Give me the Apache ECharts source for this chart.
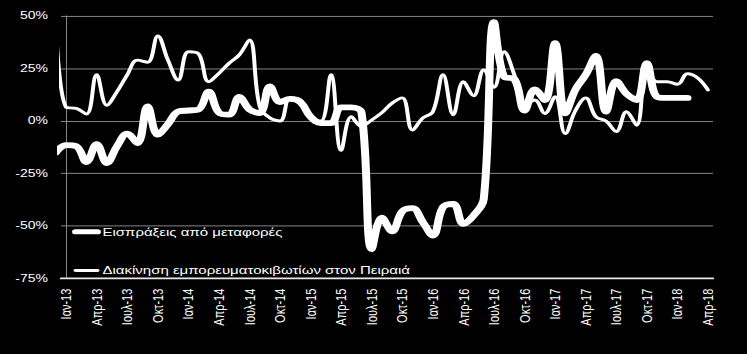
<!DOCTYPE html>
<html>
<head>
<meta charset="utf-8">
<script src="https://cdn.jsdelivr.net/npm/echarts@6/dist/echarts.min.js"></script>
<style>
  html, body { margin: 0; padding: 0; background: #000; width: 747px; height: 354px; overflow: hidden; }
  #chart { width: 747px; height: 485px; transform: scaleY(0.7299); transform-origin: 0 0; }
</style>
</head>
<body>
<div id="chart"></div>
<script>
// Month labels; the first entry (Δεκ-12) lies just before the visible axis and is clipped.
const months = ['Δεκ-12',
  'Ιαν-13','Φεβ-13','Μαρ-13','Απρ-13','Μαϊ-13','Ιουν-13','Ιουλ-13','Αυγ-13','Σεπ-13','Οκτ-13','Νοε-13','Δεκ-13',
  'Ιαν-14','Φεβ-14','Μαρ-14','Απρ-14','Μαϊ-14','Ιουν-14','Ιουλ-14','Αυγ-14','Σεπ-14','Οκτ-14','Νοε-14','Δεκ-14',
  'Ιαν-15','Φεβ-15','Μαρ-15','Απρ-15','Μαϊ-15','Ιουν-15','Ιουλ-15','Αυγ-15','Σεπ-15','Οκτ-15','Νοε-15','Δεκ-15',
  'Ιαν-16','Φεβ-16','Μαρ-16','Απρ-16','Μαϊ-16','Ιουν-16','Ιουλ-16','Αυγ-16','Σεπ-16','Οκτ-16','Νοε-16','Δεκ-16',
  'Ιαν-17','Φεβ-17','Μαρ-17','Απρ-17','Μαϊ-17','Ιουν-17','Ιουλ-17','Αυγ-17','Σεπ-17','Οκτ-17','Νοε-17','Δεκ-17',
  'Ιαν-18','Φεβ-18','Μαρ-18','Απρ-18'];

// Εισπράξεις από μεταφορές (% y/y), aligned with months
const receipts = [-15,
  -11.5, -12, -19.5, -11, -20, -12, -6, -10.5, 7, -6.5, -1.5, 4.5,
  5, 5.5, 14, 4, 3, 11.5, 5.5, 3.8, 16.5, 9, 10.5, 9,
  2, -1, -1, 6.5, 6.5, 4, -61, -46, -52.5, -43, -41.5, -48,
  -54.5, -41, -39.5, -49, -45, -37, 47, 21, 20, 5, 15, 10,
  37, 3.7, 15, 22, 31, 4.5, 19, 13, 10, 27.5, 11.5, 11,
  11, 11, null, null];

// Διακίνηση εμπορευματοκιβωτίων στον Πειραιά (% y/y), aligned with months
const containers = [46,
  6.5, 6, 3.3, 22, 7.5, 14, 22, 29, 28, 40.5, 29, 19.5,
  33, 32, 18.7, 22.7, 27.5, 31.5, 38.6, 7, 1.5, 0, 11, 10,
  1, 0, 22, -14, 2, -2.5, 0.5, 4, 8.5, 11, -4.3, 1.4,
  4.4, 22, 3, 18.7, 12, 24.3, 16, 33, 22, 7, 10, 3.6,
  11.6, -6, 5, 11, 2, 0, -5, 4.4, -2, 26, 18.7, 18.7,
  17.5, 22.5, 20.5, 14.8];

const yTicks = { min: -75, max: 50, step: 25 };
const seriesNames = ['Εισπράξεις από μεταφορές', 'Διακίνηση εμπορευματοκιβωτίων στον Πειραιά'];

const categories = months.slice(1);
const toPairs = arr => arr.map((v, k) => [k - 1, v]);

const font = 'Liberation Sans, Arial, sans-serif';
const chart = echarts.init(document.getElementById('chart'), null, { renderer: 'svg' });
chart.setOption({
  backgroundColor: '#000',
  animation: false,
  grid: { left: 61, right: 34, top: 21.9, bottom: 103.4, containLabel: false },
  legend: {
    orient: 'vertical',
    left: 67,
    top: 305,
    itemWidth: 22,
    itemHeight: 14,
    itemGap: 38,
    textStyle: { color: '#fff', fontSize: 15, fontFamily: font },
    data: [
      { name: seriesNames[0], lineStyle: { width: 7, color: '#fff' }, itemStyle: { opacity: 0 } },
      { name: seriesNames[1], lineStyle: { width: 4, color: '#fff' }, itemStyle: { opacity: 0 } }
    ]
  },
  xAxis: [
    {
      type: 'category',
      data: categories,
      boundaryGap: true,
      axisLine: { show: false },
      axisTick: { show: false },
      axisLabel: {
        interval: 2, rotate: 90, margin: 14,
        color: '#fff', fontSize: 15, fontFamily: font
      },
      splitLine: { show: false }
    },
    {
      type: 'value',
      min: -0.5, max: 63.5,
      position: 'bottom',
      axisLine: { show: true, onZero: true, lineStyle: { color: '#e6e6e6', width: 2.5 } },
      axisTick: { show: false },
      axisLabel: { show: false },
      splitLine: { show: false }
    }
  ],
  yAxis: {
    type: 'value',
    min: yTicks.min, max: yTicks.max, interval: yTicks.step,
    axisLine: { show: true, lineStyle: { color: '#9a9a9a', width: 1 } },
    axisTick: { show: false },
    axisLabel: { formatter: '{value}%', color: '#fff', fontSize: 14, fontFamily: font, margin: 13 },
    splitLine: { show: true, lineStyle: { color: '#9a9a9a', width: 1 } }
  },
  series: [
    {
      name: seriesNames[0],
      type: 'line',
      xAxisIndex: 1,
      data: toPairs(receipts),
      smooth: 0.4,
      symbol: 'none',
      lineStyle: { color: '#fff', width: 8, cap: 'round', join: 'round' },
      itemStyle: { color: '#fff' },
      clip: true
    },
    {
      name: seriesNames[1],
      type: 'line',
      xAxisIndex: 1,
      data: toPairs(containers),
      smooth: 0.4,
      symbol: 'none',
      lineStyle: { color: '#fff', width: 4, cap: 'round', join: 'round' },
      itemStyle: { color: '#fff' },
      clip: true
    }
  ]
});
</script>
</body>
</html>
